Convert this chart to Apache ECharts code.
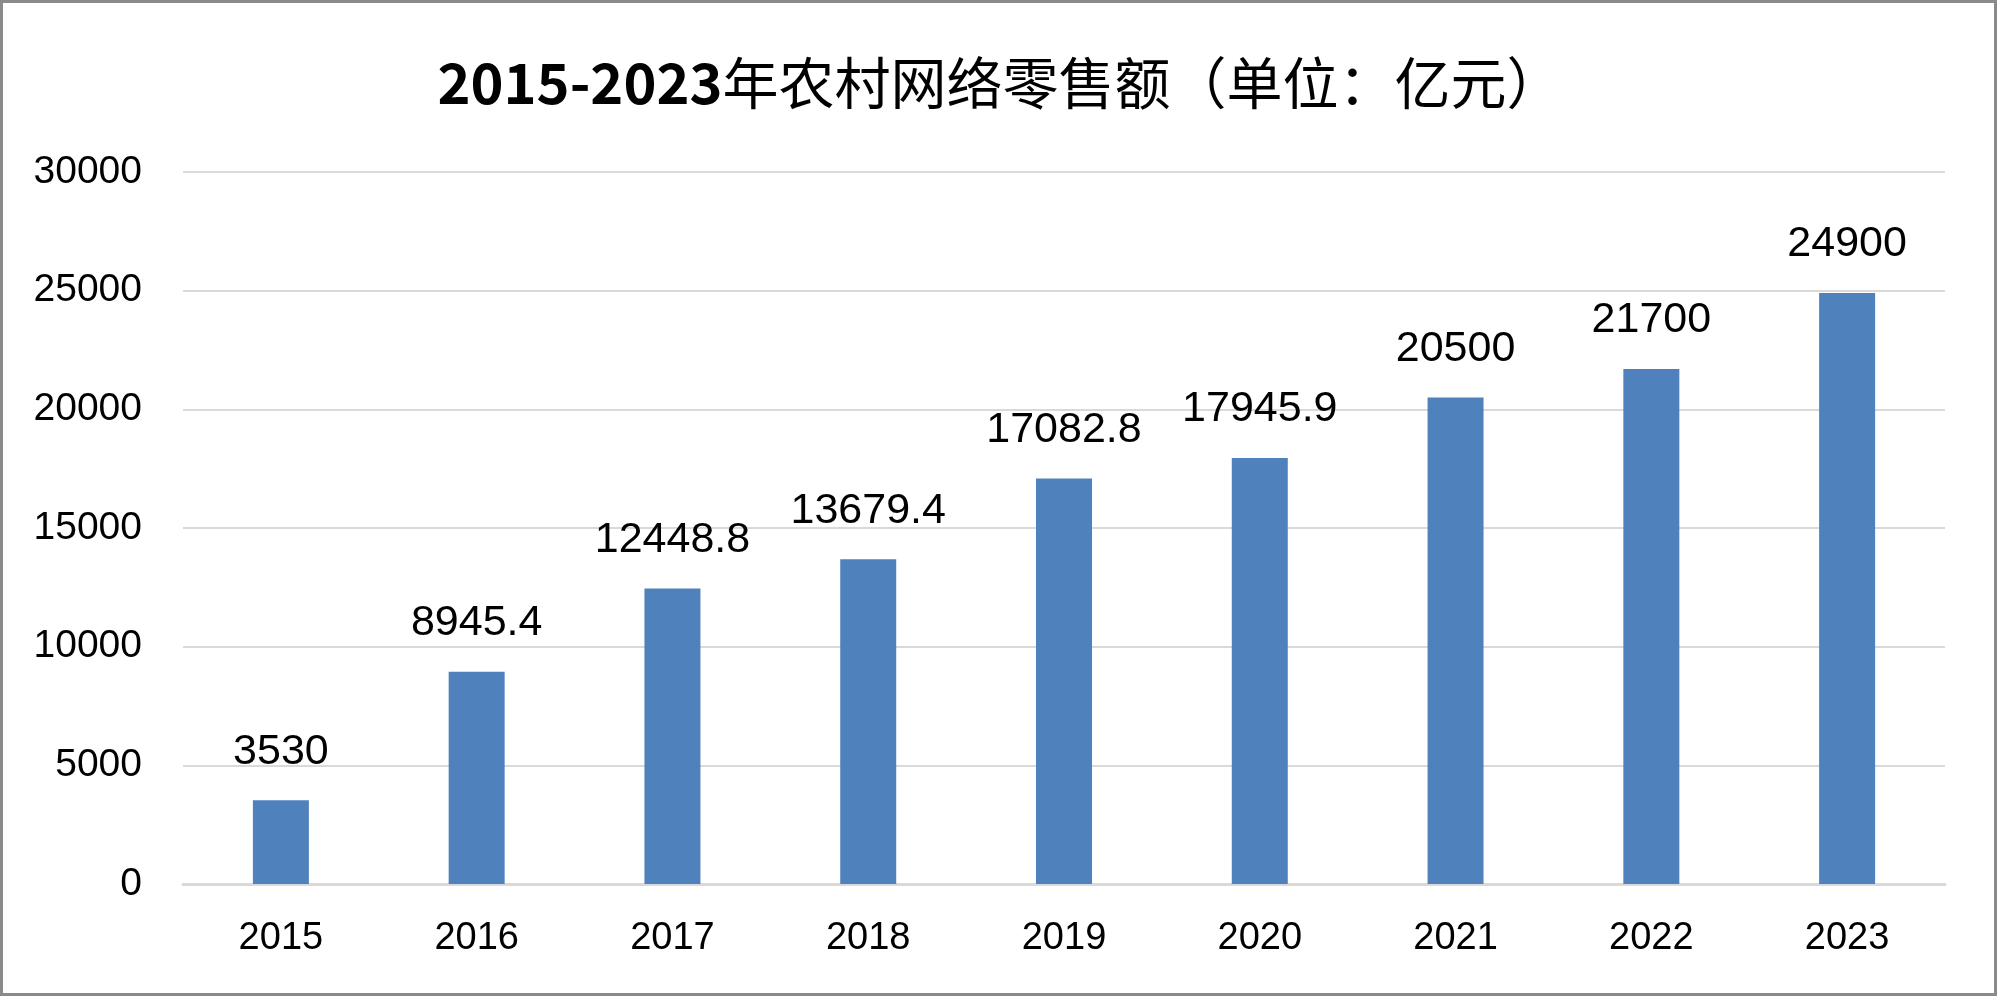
<!DOCTYPE html>
<html>
<head>
<meta charset="utf-8">
<script src="https://cdn.jsdelivr.net/npm/echarts@6/dist/echarts.min.js"></script>
<style>
html,body{margin:0;padding:0;background:#fff;}
#main{width:2000px;height:998px;}
</style>
</head>
<body>
<div id="main"></div>
<script>
const titleYears = '2015-2023';
const titleRest = '年农村网络零售额（单位：亿元）';
const categories = ['2015','2016','2017','2018','2019','2020','2021','2022','2023'];
const values = [3530, 8945.4, 12448.8, 13679.4, 17082.8, 17945.9, 20500, 21700, 24900];
const yMin = 0, yMax = 30000, yInterval = 5000;

const chart = echarts.init(document.getElementById('main'), null, {renderer:'canvas'});
const numFont = 'Liberation Sans';
chart.setOption({
  backgroundColor:'#ffffff',
  animation:false,
  title:{
    text:'{a|' + titleYears + '}{b|' + titleRest + '}',
    left:'center',
    top:50,
    textStyle:{
      rich:{
        a:{fontFamily:'Noto Sans CJK SC', fontWeight:'bold', fontSize:56, color:'#000'},
        b:{fontFamily:'Noto Sans CJK SC', fontWeight:'normal', fontSize:56, color:'#000'}
      }
    }
  },
  graphic:[{
    type:'rect',
    shape:{x:1.5, y:1.5, width:1994, height:993},
    style:{fill:'none', stroke:'#8a8a8a', lineWidth:3},
    silent:true
  }],
  grid:{left:183, right:55, top:172, bottom:114, containLabel:false},
  xAxis:{
    type:'category',
    data:categories,
    axisLine:{show:true, lineStyle:{color:'#d9d9d9', width:3}},
    axisTick:{show:false},
    axisLabel:{fontFamily:numFont, fontSize:38, color:'#000', margin:36}
  },
  yAxis:{
    type:'value',
    min:yMin, max:yMax, interval:yInterval,
    axisLine:{show:false},
    axisTick:{show:false},
    splitLine:{show:true, lineStyle:{color:'#d9d9d9', width:2}},
    axisLabel:{fontFamily:numFont, fontSize:39, color:'#000', margin:41,
      formatter:function(v){return String(v);}}
  },
  series:[{
    type:'bar',
    data:values,
    barWidth:'28.6%',
    itemStyle:{color:'#4f81bd'},
    label:{
      show:true, position:'top', distance:27,
      fontFamily:numFont, fontSize:43, color:'#000'
    }
  }]
});
</script>
</body>
</html>
